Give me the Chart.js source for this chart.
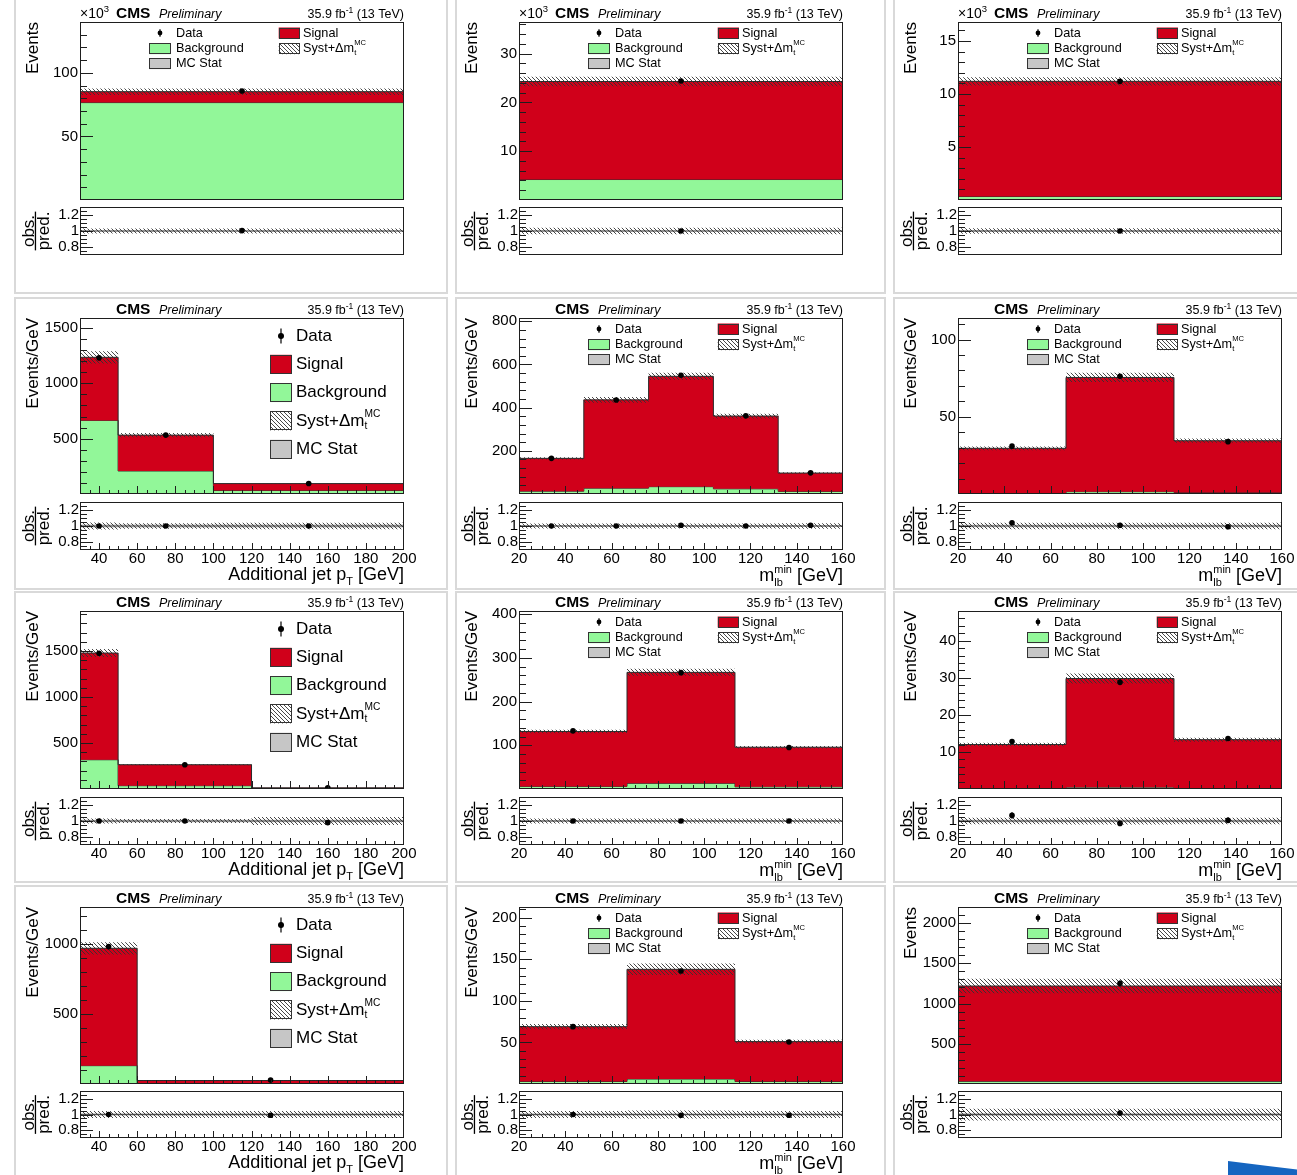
<!DOCTYPE html>
<html>
<head>
<meta charset="utf-8">
<title>CMS control distributions</title>
<script src="https://cdn.jsdelivr.net/npm/chart.js@4.4.1/dist/chart.umd.min.js"></script>
<style>
  html, body { margin: 0; padding: 0; background: #fff; }
  body { position: relative; width: 1297px; height: 1175px; overflow: hidden; }
  canvas { position: absolute; }
  .pad { position: absolute; border: 2px solid #d9d9d9; box-sizing: border-box; }
  .arrow { position: absolute; left: 1228px; top: 1161px; width: 72px; height: 16px; background: #1565c0;
           clip-path: polygon(0 0, 100% 55%, 100% 100%, 0 100%); }
</style>
</head>
<body>
<div class="arrow"></div>
<script>
// ── Values (row by row, left to right) ───────────────────────────────────────
const panelKind = ['incl', 'incl', 'incl', 'pt', 'mlb', 'mlb', 'pt', 'mlb', 'mlb', 'pt', 'mlb', 'incl'];
const kiloPanels = [0, 1, 2];   // panels drawn in units of 10^3 events

const binEdges = [
  [0, 1], [0, 1], [0, 1],
  [30, 50, 100, 200], [20, 48, 76, 104, 132, 160], [20, 66.67, 113.33, 160],
  [30, 50, 120, 200], [20, 66.67, 113.33, 160], [20, 66.67, 113.33, 160],
  [30, 60, 200], [20, 66.67, 113.33, 160], [0, 1],
];
const bkgYield = [
  [76.6], [4.2], [0.33],
  [665, 208, 32], [13, 27, 34, 24, 12], [0.6, 1.5, 1.0],
  [318, 36, 2], [6, 13, 5], [0.3, 0.5, 0.3],
  [131, 3], [3, 6, 3], [33],
];
const sigYield = [
  [8.6], [20.1], [10.87],
  [570, 324, 62], [152, 409, 511, 337, 85], [29.0, 74.0, 33.5],
  [1160, 228, 11], [125.5, 253.7, 90.5], [11.7, 29.3, 13.0],
  [839, 22], [66, 132, 48], [1185],
];
const dataYield = [
  [85.7], [24.4], [11.2],
  [1230, 532, 95], [165, 435, 550, 362, 98], [31.0, 76.3, 33.9],
  [1475, 264, 13], [133, 266, 95], [12.8, 28.8, 13.6],
  [982, 28], [69, 136, 50.5], [1251],
];
const dataErr = [
  [0.3], [0.16], [0.11],
  [8, 3.3, 1], [2.4, 4, 4.4, 3.6, 1.9], [0.8, 1.3, 0.9],
  [8.6, 1.9, 0.4], [1.7, 2.4, 1.4], [0.5, 0.8, 0.5],
  [5.7, 0.45], [1.5, 1.7, 1.0], [35],
];
const ratioVal = [
  [1.005], [1.0], [1.0],
  [1.0, 1.0, 1.0], [1.0, 1.0, 1.01, 1.0, 1.01], [1.04, 1.01, 0.99],
  [1.0, 1.0, 0.98], [1.0, 1.0, 1.0], [1.07, 0.97, 1.01],
  [1.0, 0.99], [1.0, 0.99, 0.99], [1.02],
];
const ratioErr = [
  [0.004], [0.007], [0.009],
  [0.007, 0.006, 0.011], [0.015, 0.009, 0.008, 0.01, 0.02], [0.025, 0.017, 0.026],
  [0.006, 0.007, 0.03], [0.013, 0.009, 0.015], [0.04, 0.028, 0.037],
  [0.006, 0.016], [0.017, 0.013, 0.02], [0.028],
];
// relative Syst+Δm_t band and MC-stat band per bin
const systRel = [
  [0.03], [0.04], [0.035],
  [0.045, 0.035, 0.04], [0.03, 0.03, 0.03, 0.03, 0.035], [0.04, 0.04, 0.04],
  [0.03, 0.025, 0.05], [0.03, 0.03, 0.03], [0.04, 0.045, 0.04],
  [0.045, 0.045], [0.045, 0.05, 0.045], [0.075],
];
const mcStatRel = [
  [0.008], [0.01], [0.012],
  [0.02, 0.02, 0.02], [0.012, 0.012, 0.012, 0.012, 0.012], [0.015, 0.015, 0.015],
  [0.015, 0.015, 0.015], [0.012, 0.012, 0.012], [0.015, 0.015, 0.015],
  [0.015, 0.015], [0.015, 0.015, 0.015], [0.02],
];

// axes
const yMax = [140, 36.5, 16.8, 1590, 815, 114, 1935, 407, 48, 1265, 213, 2200];
const yTickLabels = [
  [50, 100], [10, 20, 30], [5, 10, 15],
  [500, 1000, 1500], [200, 400, 600, 800], [50, 100],
  [500, 1000, 1500], [100, 200, 300, 400], [10, 20, 30, 40],
  [500, 1000], [50, 100, 150, 200], [500, 1000, 1500, 2000],
];
const yMinorStep = [10, 2, 1, 100, 40, 10, 100, 20, 2, 100, 10, 100];
const ptTicks = [40, 60, 80, 100, 120, 140, 160, 180, 200];
const mlbTicks = [20, 40, 60, 80, 100, 120, 140, 160];
const ratioTicks = [0.8, 1, 1.2];
const ratioRange = [0.7, 1.3];

// ── Layout / style ───────────────────────────────────────────────────────────
const FONT = '"Liberation Sans", Arial, Helvetica, sans-serif';
const RED = '#d0001a';
const GREEN = '#92f799';
const GREY = '#c6c6c6';
const EDGE = '#2a2a2a';
const COL_X = [80, 519, 958];
const FRAME_W = 324;
const ROWS = [
  { mt: 22,  mb: 200,  rt: 207,  rb: 255 },
  { mt: 318, mb: 494,  rt: 502,  rb: 550 },
  { mt: 611, mb: 789,  rt: 797,  rb: 845 },
  { mt: 907, mb: 1084, rt: 1091, rb: 1138 },
];
const PAD_BOXES = [
  [14, -4, 434, 298], [455, -4, 431, 298], [893, -4, 410, 298],
  [14, 297, 434, 293], [455, 297, 431, 293], [893, 297, 410, 293],
  [14, 591, 434, 292], [455, 591, 431, 292], [893, 591, 410, 292],
  [14, 885, 434, 300], [455, 885, 431, 300], [893, 885, 410, 300],
];
const M_L = 80, M_T = 22, M_R = 8, M_B = 4;        // main canvas margins
const R_T = 6, R_R = 16, R_B = 44;                 // ratio canvas margins

PAD_BOXES.forEach(([l, t, w, h]) => {
  const d = document.createElement('div');
  d.className = 'pad';
  Object.assign(d.style, { left: l + 'px', top: t + 'px', width: w + 'px', height: h + 'px' });
  document.body.appendChild(d);
});

function hatchPattern() {
  const c = document.createElement('canvas');
  c.width = c.height = 4;
  const g = c.getContext('2d');
  g.strokeStyle = '#333';
  g.lineWidth = 0.9;
  g.beginPath();
  for (let k = -4; k <= 4; k += 4) { g.moveTo(k, 0); g.lineTo(k + 4, 4); }
  g.stroke();
  return g.createPattern(c, 'repeat');
}
const HATCH = hatchPattern();

function makeCanvas(left, top, w, h) {
  const c = document.createElement('canvas');
  c.width = w; c.height = h;
  Object.assign(c.style, { left: left + 'px', top: top + 'px', width: w + 'px', height: h + 'px' });
  document.body.appendChild(c);
  return c;
}

function stepPoints(edges, vals) {
  const pts = vals.map((v, k) => ({ x: edges[k], y: v }));
  pts.push({ x: edges[edges.length - 1], y: vals[vals.length - 1] });
  return pts;
}

// ── rich text (super/subscripts) ────────────────────────────────────────────
const fontOf = p => [p.st, p.w, p.s + 'px', FONT].filter(Boolean).join(' ');
function partsWidth(ctx, parts) {
  let w = 0;
  parts.forEach(p => {
    const items = p.stack || [p];
    w += Math.max(...items.map(s => { ctx.font = fontOf(s); return ctx.measureText(s.t).width; }));
  });
  return w;
}
function drawParts(ctx, parts, x, y, align) {
  if (align === 'right') x -= partsWidth(ctx, parts);
  ctx.textAlign = 'left';
  parts.forEach(p => {
    const items = p.stack || [p];
    let adv = 0;
    items.forEach(s => {
      ctx.font = fontOf(s);
      ctx.fillText(s.t, x, y + (s.dy || 0));
      adv = Math.max(adv, ctx.measureText(s.t).width);
    });
    x += adv;
  });
}
const systLabel = s => [
  { t: 'Syst+Δm', s },
  { stack: [{ t: 'MC', s: s * 0.6, dy: -s * 0.42 }, { t: 't', s: s * 0.6, dy: s * 0.3 }] },
];

// ── legend pieces ────────────────────────────────────────────────────────────
function box(ctx, x, y, w, h, fill) {
  ctx.fillStyle = '#fff';
  ctx.fillRect(x, y, w, h);
  ctx.fillStyle = fill;
  ctx.fillRect(x, y, w, h);
  ctx.strokeStyle = '#333';
  ctx.lineWidth = 1;
  ctx.strokeRect(Math.round(x) + 0.5, Math.round(y) + 0.5, Math.round(w) - 1, Math.round(h) - 1);
}
function marker(ctx, x, y, arm, r) {
  ctx.strokeStyle = '#000'; ctx.lineWidth = 1.2;
  ctx.beginPath(); ctx.moveTo(x, y - arm); ctx.lineTo(x, y + arm); ctx.stroke();
  ctx.fillStyle = '#000';
  ctx.beginPath(); ctx.arc(x, y, r, 0, Math.PI * 2); ctx.fill();
}
function drawLegend(ctx, a, big) {
  ctx.textBaseline = 'middle';
  if (big) {
    const s = 17, bx = a.left + 190, tx = a.left + 216, rows = [18, 46.3, 74.6, 102.9, 131.2].map(v => a.top + v);
    marker(ctx, a.left + 201, rows[0], 7.5, 3);
    box(ctx, bx, rows[1] - 9.5, 21.7, 19, RED);
    box(ctx, bx, rows[2] - 9.5, 21.7, 19, GREEN);
    box(ctx, bx, rows[3] - 9.5, 21.7, 19, HATCH);
    box(ctx, bx, rows[4] - 9.5, 21.7, 19, GREY);
    ctx.fillStyle = '#000';
    drawParts(ctx, [{ t: 'Data', s }], tx, rows[0]);
    drawParts(ctx, [{ t: 'Signal', s }], tx, rows[1]);
    drawParts(ctx, [{ t: 'Background', s }], tx, rows[2]);
    drawParts(ctx, systLabel(s), tx, rows[3]);
    drawParts(ctx, [{ t: 'MC Stat', s }], tx, rows[4]);
  } else {
    const s = 12.7, r0 = a.top + 11, r1 = a.top + 26.7, r2 = a.top + 41.7;
    marker(ctx, a.left + 80, r0, 3.8, 2.4);
    box(ctx, a.left + 69, r1 - 5.5, 21.7, 11, GREEN);
    box(ctx, a.left + 69, r2 - 5.5, 21.7, 11, GREY);
    box(ctx, a.left + 198.7, r0 - 5.5, 21.3, 11, RED);
    box(ctx, a.left + 198.7, r1 - 5.5, 21.3, 11, HATCH);
    ctx.fillStyle = '#000';
    drawParts(ctx, [{ t: 'Data', s }], a.left + 96, r0);
    drawParts(ctx, [{ t: 'Background', s }], a.left + 96, r1);
    drawParts(ctx, [{ t: 'MC Stat', s }], a.left + 96, r2);
    drawParts(ctx, [{ t: 'Signal', s }], a.left + 223, r0);
    drawParts(ctx, systLabel(s), a.left + 223, r1);
  }
}

// ── frame, ROOT-style inward ticks, error bars ───────────────────────────────
function tickValues(min, max, step) {
  const out = [];
  const first = Math.ceil(min / step - 1e-6);
  for (let k = first; k * step <= max + 1e-9; k++) out.push(k * step);
  return out;
}
function framePlugin(spec) {
  return {
    id: 'frameTicks',
    afterDatasetsDraw(chart) {
      const { ctx, chartArea: a, scales: { x, y } } = chart;
      ctx.save();
      ctx.strokeStyle = '#000';
      ctx.lineWidth = 1.2;
      spec.errs.forEach(e => {
        const px = x.getPixelForValue(e.x);
        ctx.beginPath();
        ctx.moveTo(px, y.getPixelForValue(e.y - e.err));
        ctx.lineTo(px, y.getPixelForValue(e.y + e.err));
        ctx.stroke();
      });
      ctx.strokeStyle = '#1e1e1e';
      ctx.lineWidth = 1;
      ctx.beginPath();
      tickValues(y.min, y.max, spec.yMinor).forEach(v => {
        const py = Math.round(y.getPixelForValue(v)) + 0.5;
        if (py <= a.top + 1 || py >= a.bottom - 1) return;
        const len = spec.yMajor.some(m => Math.abs(m - v) < 1e-6) ? spec.yLen[0] : spec.yLen[1];
        ctx.moveTo(a.left, py); ctx.lineTo(a.left + len, py);
      });
      if (spec.xMajor.length) {
        tickValues(x.min, x.max, 5).forEach(v => {
          const px = Math.round(x.getPixelForValue(v)) + 0.5;
          if (px <= a.left + 1 || px >= a.right - 1) return;
          const len = spec.xMajor.includes(v) ? spec.xLen[0] : spec.xLen[1];
          ctx.moveTo(px, a.bottom); ctx.lineTo(px, a.bottom - len);
        });
      }
      ctx.stroke();
      ctx.strokeRect(a.left + 0.5, a.top + 0.5, a.width - 1, a.height - 1);
      ctx.restore();
    },
    afterDraw(chart) {
      const { ctx, chartArea: a } = chart;
      ctx.save();
      spec.decorate(ctx, a);
      ctx.restore();
    },
  };
}

function baseOptions(o) {
  return {
    responsive: false, animation: false, events: [], devicePixelRatio: 1,
    layout: { padding: { top: o.padTop, right: o.padRight, left: 0, bottom: 0 }, autoPadding: false },
    plugins: { legend: { display: false }, tooltip: { enabled: false } },
    elements: { line: { tension: 0 } },
    scales: {
      x: {
        type: 'linear', min: o.xMin, max: o.xMax,
        grid: { display: false, drawTicks: false }, border: { display: false },
        ticks: {
          display: o.xLabels.length > 0, autoSkip: false, maxRotation: 0, padding: 0,
          font: { family: FONT, size: 15 }, color: '#000', callback: v => String(v),
        },
        afterBuildTicks: s => { if (o.xLabels.length) s.ticks = o.xLabels.map(v => ({ value: v })); },
        afterFit: s => { s.height = o.bottomH; s.paddingLeft = 0; s.paddingRight = 0; },
      },
      y: {
        type: 'linear', min: o.yMin, max: o.yMax,
        grid: { display: false, drawTicks: false }, border: { display: false },
        ticks: {
          autoSkip: false, padding: o.yPad, font: { family: FONT, size: 15 }, color: '#000', callback: o.yFmt,
        },
        afterBuildTicks: s => { s.ticks = o.yLabels.map(v => ({ value: v })); },
        afterFit: s => { s.width = M_L; s.paddingTop = 0; s.paddingBottom = 0; },
      },
    },
  };
}

const LUMI = [{ t: '35.9 fb', s: 12.5 }, { t: '-1', s: 8.5, dy: -5 }, { t: ' (13 TeV)', s: 12.5 }];

function buildPanel(i) {
  const col = i % 3, row = Math.floor(i / 3), R = ROWS[row], fx = COL_X[col];
  const kind = panelKind[i];
  const edges = binEdges[i];
  const xMin = edges[0], xMax = edges[edges.length - 1];
  const total = bkgYield[i].map((b, k) => b + sigYield[i][k]);
  const centers = edges.slice(0, -1).map((e, k) => (e + edges[k + 1]) / 2);
  const xLabels = kind === 'pt' ? ptTicks : kind === 'mlb' ? mlbTicks : [];
  const syst = systRel[i];

  // main stacked histogram
  const mh = R.mb - R.mt;
  const mainCv = makeCanvas(fx - M_L, R.mt - M_T, FRAME_W + M_L + M_R, mh + M_T + M_B);
  const mainOpts = baseOptions({
    padTop: M_T, padRight: M_R, bottomH: M_B, xMin, xMax, xLabels: [],
    yMin: 0, yMax: yMax[i], yLabels: yTickLabels[i], yPad: 2, yFmt: v => String(v),
  });
  new Chart(mainCv, {
    type: 'line',
    data: {
      datasets: [
        { data: stepPoints(edges, bkgYield[i]), stepped: true, fill: 'origin', backgroundColor: GREEN,
          borderColor: EDGE, borderWidth: 1, pointRadius: 0, order: 4 },
        { data: stepPoints(edges, total), stepped: true, fill: '-1', backgroundColor: RED,
          borderColor: EDGE, borderWidth: 1, pointRadius: 0, order: 3 },
        { data: stepPoints(edges, total.map((t, k) => t * (1 + syst[k]))), stepped: true, fill: '+1',
          backgroundColor: HATCH, borderColor: 'rgba(0,0,0,0)', pointRadius: 0, order: 2 },
        { data: stepPoints(edges, total.map((t, k) => t * (1 - syst[k]))), stepped: true, fill: false,
          borderColor: 'rgba(0,0,0,0)', pointRadius: 0, order: 2 },
        { data: centers.map((c, k) => ({ x: c, y: dataYield[i][k] })), showLine: false,
          pointRadius: 2.8, pointBackgroundColor: '#000', pointBorderColor: '#000', pointBorderWidth: 0, order: 0 },
      ],
    },
    options: mainOpts,
    plugins: [framePlugin({
      errs: centers.map((c, k) => ({ x: c, y: dataYield[i][k], err: dataErr[i][k] })),
      yMajor: yTickLabels[i], yMinor: yMinorStep[i], yLen: [13, 7],
      xMajor: xLabels, xLen: [8, 4],
      decorate: (ctx, a) => {
        ctx.fillStyle = '#000';
        ctx.textBaseline = 'alphabetic';
        const base = a.top - 4;
        if (kiloPanels.includes(i)) drawParts(ctx, [{ t: '×10', s: 14 }, { t: '3', s: 9.5, dy: -6 }], a.left, base);
        drawParts(ctx, [{ t: 'CMS', s: 15.5, w: 'bold' }], a.left + 36, base);
        drawParts(ctx, [{ t: 'Preliminary', s: 12.5, st: 'italic' }], a.left + 79, base);
        drawParts(ctx, LUMI, a.right, base, 'right');
        ctx.save();
        ctx.translate(a.left - 47, a.top);
        ctx.rotate(-Math.PI / 2);
        ctx.textBaseline = 'middle';
        drawParts(ctx, [{ t: kind === 'incl' ? 'Events' : 'Events/GeV', s: 17 }], 0, 0, 'right');
        ctx.restore();
        drawLegend(ctx, a, kind === 'pt');
      },
    })],
  });

  // ratio panel
  const rh = R.rb - R.rt;
  const ratioCv = makeCanvas(fx - M_L, R.rt - R_T, FRAME_W + M_L + R_R, rh + R_T + R_B);
  const mc = mcStatRel[i];
  new Chart(ratioCv, {
    type: 'line',
    data: {
      datasets: [
        { data: stepPoints(edges, mc.map(d => 1 + d)), stepped: true, fill: '+1', backgroundColor: GREY,
          borderColor: 'rgba(0,0,0,0)', pointRadius: 0, order: 6 },
        { data: stepPoints(edges, mc.map(d => 1 - d)), stepped: true, fill: false,
          borderColor: 'rgba(0,0,0,0)', pointRadius: 0, order: 6 },
        { data: [{ x: xMin, y: 1 }, { x: xMax, y: 1 }], fill: false, borderColor: '#555', borderWidth: 1.2,
          pointRadius: 0, order: 5 },
        { data: stepPoints(edges, syst.map(d => 1 + d)), stepped: true, fill: '+1', backgroundColor: HATCH,
          borderColor: 'rgba(0,0,0,0)', pointRadius: 0, order: 4 },
        { data: stepPoints(edges, syst.map(d => 1 - d)), stepped: true, fill: false,
          borderColor: 'rgba(0,0,0,0)', pointRadius: 0, order: 4 },
        { data: centers.map((c, k) => ({ x: c, y: ratioVal[i][k] })), showLine: false,
          pointRadius: 2.8, pointBackgroundColor: '#000', pointBorderColor: '#000', pointBorderWidth: 0, order: 0 },
      ],
    },
    options: baseOptions({
      padTop: R_T, padRight: R_R, bottomH: R_B, xMin, xMax, xLabels,
      yMin: ratioRange[0], yMax: ratioRange[1], yLabels: ratioTicks, yPad: 1,
      yFmt: v => (v === 1 ? '1' : v.toFixed(1)),
    }),
    plugins: [framePlugin({
      errs: centers.map((c, k) => ({ x: c, y: ratioVal[i][k], err: ratioErr[i][k] })),
      yMajor: ratioTicks, yMinor: 0.05, yLen: [13, 7],
      xMajor: xLabels, xLen: [7, 4],
      decorate: (ctx, a) => {
        ctx.fillStyle = '#000';
        ctx.save();
        ctx.translate(a.left - 45, (a.top + a.bottom) / 2);
        ctx.rotate(-Math.PI / 2);
        ctx.font = `17px ${FONT}`;
        ctx.textAlign = 'center';
        ctx.textBaseline = 'alphabetic';
        ctx.fillText('obs.', 0, -1.5);
        ctx.fillText('pred.', 0, 13.5);
        const w = ctx.measureText('pred.').width;
        ctx.fillRect(-w / 2, -0.2, w, 1.3);
        ctx.restore();
        ctx.textBaseline = 'alphabetic';
        if (kind === 'pt') {
          drawParts(ctx, [{ t: 'Additional jet p', s: 18 }, { t: 'T', s: 11, dy: 5 }, { t: ' [GeV]', s: 18 }],
            a.right, a.bottom + 29.5, 'right');
        } else if (kind === 'mlb') {
          drawParts(ctx, [{ t: 'm', s: 18 },
            { stack: [{ t: 'min', s: 11, dy: -8 }, { t: 'lb', s: 11, dy: 5 }] },
            { t: ' [GeV]', s: 18 }], a.right, a.bottom + 31, 'right');
        }
      },
    })],
  });
}

panelKind.forEach((_, i) => buildPanel(i));
</script>
</body>
</html>
